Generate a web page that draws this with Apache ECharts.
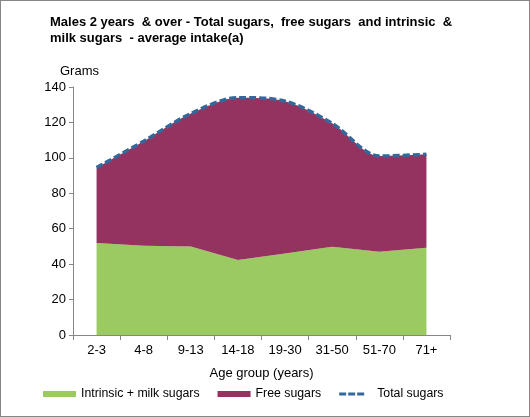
<!DOCTYPE html>
<html>
<head>
<meta charset="utf-8">
<script src="https://cdn.jsdelivr.net/npm/echarts@6/dist/echarts.min.js"></script>
<style>
  html, body { margin: 0; padding: 0; background: #fff; }
  #chart { width: 530px; height: 417px; box-sizing: border-box; border: 1px solid #868686; }
</style>
</head>
<body>
<div id="chart"></div>
<script>
// age groups along the x axis
const ageGroups = ['2-3', '4-8', '9-13', '14-18', '19-30', '31-50', '51-70', '71+'];
// grams per day
const intrinsicMilk = [52, 50.4, 50, 42.3, 46, 49.8, 47, 49.2];
const freeSugars    = [42.5, 59, 75, 91.7, 86, 69.7, 54, 52.8];
const totalSugars   = [94.5, 109.4, 125, 134, 132, 119.5, 101, 102];
const yTicks = { min: 0, max: 140, interval: 20 };

const font = 'Arial, "Liberation Sans", sans-serif';
const cGreen = '#9BC962';
const cFree  = '#953360';
const cTotal = '#34689A';
const cAxis  = '#868686';

// three dashes on the left 25px of a 33x6 legend slot (tiny corner marks keep the box size)
const dashIcon = 'path://M0,1.5H7V4.5H0Z M9,1.5H16V4.5H9Z M18,1.5H25V4.5H18Z M32.9,0H33V0.1H32.9Z M32.9,5.9H33V6H32.9Z';

const chart = echarts.init(document.getElementById('chart'));
chart.setOption({
    backgroundColor: '#fff',
    animation: false,
    textStyle: { fontFamily: font },
    title: [{
        text: 'Males 2 years  & over - Total sugars,  free sugars  and intrinsic  &\nmilk sugars  - average intake(a)',
        left: 44, top: 8,
        textStyle: { fontSize: 13, fontWeight: 'bold', color: '#000', lineHeight: 16, fontFamily: font },
    }, {
        text: 'Grams',
        left: 54, top: 59,
        textStyle: { fontSize: 13, fontWeight: 'normal', color: '#000', fontFamily: font },
    }],
    grid: { left: 72, right: 79, top: 86, bottom: 81, containLabel: false },
    legend: {
        bottom: 11, left: 37,
        itemWidth: 33, itemHeight: 6, itemGap: 18,
        textStyle: { fontSize: 12.3, color: '#000', fontFamily: font },
        data: [
            { name: 'Intrinsic + milk sugars', icon: 'rect' },
            { name: 'Free sugars', icon: 'rect' },
            { name: 'Total sugars', icon: dashIcon, itemStyle: { color: cTotal, borderWidth: 0 } },
        ],
    },
    xAxis: {
        type: 'category',
        data: ageGroups,
        boundaryGap: true,
        name: 'Age group (years)',
        nameLocation: 'middle',
        nameGap: 32,
        nameTextStyle: { fontSize: 13, color: '#000' },
        axisLine: { lineStyle: { color: cAxis } },
        axisTick: { show: true, length: 5, lineStyle: { color: cAxis } },
        axisLabel: { color: '#000', fontSize: 13, margin: 9, interval: 0 },
    },
    yAxis: {
        type: 'value',
        min: yTicks.min, max: yTicks.max, interval: yTicks.interval,
        axisLine: { show: true, lineStyle: { color: cAxis } },
        axisTick: { show: true, length: 4, lineStyle: { color: cAxis } },
        axisLabel: { color: '#000', fontSize: 13, margin: 7 },
        splitLine: { show: false },
    },
    series: [{
        name: 'Intrinsic + milk sugars',
        type: 'line',
        stack: 'sugars',
        data: intrinsicMilk,
        symbol: 'none',
        lineStyle: { width: 0 },
        itemStyle: { color: cGreen },
        areaStyle: { color: cGreen, opacity: 1 },
    }, {
        name: 'Free sugars',
        type: 'line',
        stack: 'sugars',
        data: freeSugars,
        symbol: 'none',
        smooth: 0.3,
        lineStyle: { width: 0 },
        itemStyle: { color: cFree },
        areaStyle: { color: cFree, opacity: 1 },
    }, {
        name: 'Total sugars',
        type: 'line',
        data: totalSugars,
        symbol: 'none',
        smooth: 0.3,
        z: 5,
        itemStyle: { color: cTotal },
        lineStyle: { color: cTotal, width: 3.5, type: [7, 3] },
    }],
});
</script>
</body>
</html>
